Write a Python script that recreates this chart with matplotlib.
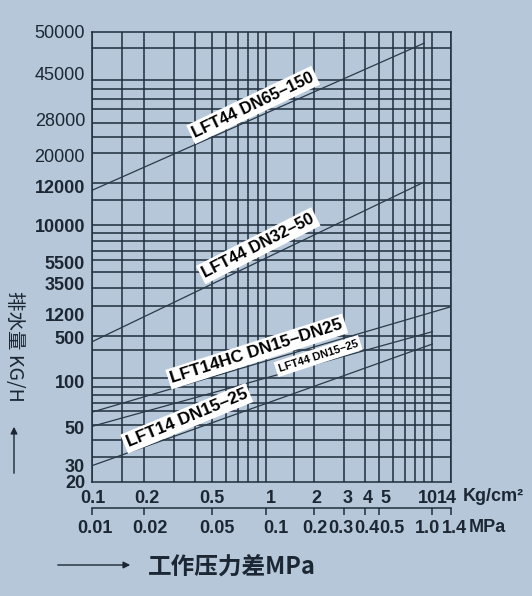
import numpy as np
import matplotlib
matplotlib.use("Agg")
import matplotlib.pyplot as plt
from matplotlib.ticker import FixedLocator, NullFormatter
from matplotlib.transforms import ScaledTranslation

plt.rcParams['font.family'] = ['Liberation Sans', 'Noto Sans CJK SC', 'DejaVu Sans']

# pressure axis (Kg/cm2 on top row, MPa on the second row)
kg_ticks = [0.1, 0.2, 0.5, 1, 2, 3, 4, 5, 10, 14]
kg_labels = ['0.1', '0.2', '0.5', '1', '2', '3', '4', '5', '10', '14']
kg_grid = [0.15, 0.3, 0.4, 0.6, 0.7, 0.8, 0.9, 1.5, 6, 7, 8, 9]
mpa_ticks = [0.01, 0.02, 0.05, 0.1, 0.2, 0.3, 0.4, 0.5, 1.0, 1.4]
mpa_labels = ['0.01', '0.02', '0.05', '0.1', '0.2', '0.3', '0.4', '0.5', '1.0', '1.4']

# flow axis (KG/H)
flow_ticks = [20, 30, 50, 100, 500, 1200, 3500, 5500, 10000, 12000, 20000, 28000, 45000, 50000]
flow_labels = [str(v) for v in flow_ticks]
flow_bold = [True] * 10 + [False] * 4

# capacity curves
curve_names = ['LFT44 DN65–150', 'LFT44 DN32–50', 'LFT14HC DN15–DN25',
               'LFT44 DN15–25', 'LFT14 DN15–25']
p_start = [0.1, 0.1, 0.1, 0.1, 0.1]
p_end = [9.0, 8.7, 14, 10, 10]
q_start = [11800, 430, 63, 51, 29.5]
q_end = [48600, 12700, 1560, 626, 395]

# the printed chart is not a clean log grid: anchor each tick to where it sits
x_anchor = [92, 144, 212, 265.7, 314.3, 344.3, 365.3, 379.3, 432.3, 451]
y_anchor = [0, 16.5, 53.8, 100.5, 143.8, 167.2, 198.2, 219.2, 255.5, 294.8,
            325.8, 362.2, 407.5, 449.8]
# unlabelled horizontal rules (same units as y_anchor)
y_rules = [433.5, 407.5, 401.5, 392.5, 382.5, 372.2, 358.8, 344.2, 328.2, 298.8,
           281.5, 256, 248.5, 240.5, 230.5, 221.2, 209.8, 193.2, 175.2, 146,
           131.5, 103.2, 94.8, 86.5, 78.8, 70.2, 56.5, 41.5, 24.5]
# label nudges (px) so the numbers sit where the print has them
kg_shift = [1, 2.5, 0, 5, 2.5, 3.4, 2.4, 5.7, -4.3, -4.3]
mpa_shift = [3, 6, 4.7, 10, 0.7, -3.3, 1.7, 13, -4.3, 3]


def piecewise_log(vals, pos):
    lv = np.log10(np.asarray(vals, dtype=float))
    pos = np.asarray(pos, dtype=float)
    s0 = (pos[1] - pos[0]) / (lv[1] - lv[0])
    s1 = (pos[-1] - pos[-2]) / (lv[-1] - lv[-2])

    def fwd(v):
        lg = np.log10(np.clip(np.asarray(v, dtype=float), 1e-12, None))
        out = np.interp(lg, lv, pos)
        out = np.where(lg < lv[0], pos[0] + (lg - lv[0]) * s0, out)
        out = np.where(lg > lv[-1], pos[-1] + (lg - lv[-1]) * s1, out)
        return out

    def inv(p):
        p = np.asarray(p, dtype=float)
        lg = np.interp(p, pos, lv)
        lg = np.where(p < pos[0], lv[0] + (p - pos[0]) / s0, lg)
        lg = np.where(p > pos[-1], lv[-1] + (p - pos[-1]) / s1, lg)
        return 10 ** lg

    return fwd, inv


bg = '#b5c7d9'
ink = '#1c2733'
grid_c = '#1f2e3c'

fig = plt.figure(figsize=(5.32, 5.96), dpi=100, facecolor=bg)
ax = fig.add_axes([92 / 532, 1 - 481.5 / 596, 359 / 532, 449.8 / 596])
ax.set_facecolor(bg)

xf, xi = piecewise_log(kg_ticks, x_anchor)
yf, yi = piecewise_log(flow_ticks, y_anchor)
ax.set_xscale('function', functions=(xf, xi))
ax.set_yscale('function', functions=(yf, yi))
ax.set_xlim(0.1, 14)
ax.set_ylim(20, 50000)

ax.xaxis.set_major_locator(FixedLocator(kg_ticks))
ax.set_xticklabels(kg_labels)
ax.xaxis.set_minor_locator(FixedLocator(kg_grid))
ax.xaxis.set_minor_formatter(NullFormatter())
ax.yaxis.set_major_locator(FixedLocator(flow_ticks))
ax.set_yticklabels(flow_labels)
ax.yaxis.set_minor_locator(FixedLocator(list(yi(y_rules))))
ax.yaxis.set_minor_formatter(NullFormatter())

ax.grid(which='both', axis='x', color=grid_c, lw=1.1)
ax.grid(which='minor', axis='y', color=grid_c, lw=1.1)
ax.tick_params(which='both', length=0)
ax.tick_params(axis='x', pad=6, labelsize=13, colors=ink)
ax.tick_params(axis='y', pad=5, labelsize=13, colors=ink)
for lbl, dx in zip(ax.get_xticklabels(), kg_shift):
    lbl.set_fontweight('bold')
    lbl.set_transform(lbl.get_transform() + ScaledTranslation(dx / 100, 0, fig.dpi_scale_trans))
for lbl, b in zip(ax.get_yticklabels(), flow_bold):
    lbl.set_fontweight('bold' if b else 'normal')
for sp in ax.spines.values():
    sp.set_color(grid_c)
    sp.set_linewidth(1.1)

for a, b, c, d in zip(p_start, p_end, q_start, q_end):
    ax.plot([a, b], [c, d], color='#2b3a48', lw=0.9)

# curve labels: (x frac, y frac, angle, size)
lab_pos = [(0.449, 0.837, 25.5, 12), (0.463, 0.524, 27, 12), (0.459, 0.289, 17.7, 12.5),
           (0.630, 0.279, 18, 8), (0.264, 0.1405, 22.5, 12.5)]
for name, (fx, fy, ang, fs) in zip(curve_names, lab_pos):
    ax.text(fx, fy, name, transform=ax.transAxes, rotation=ang, rotation_mode='anchor',
            ha='center', va='center', fontsize=fs, fontweight='bold', color='black',
            bbox=dict(facecolor='white', edgecolor='none', pad=2))

ax.text((463 - 92) / 359, -15.2 / 449.8, 'Kg/cm²', transform=ax.transAxes,
        ha='left', va='center', fontsize=13, fontweight='bold', color=ink)

# second pressure row in MPa
ax2 = ax.twiny()
ax2.set_xscale('function', functions=piecewise_log(mpa_ticks, x_anchor))
ax2.set_xlim(0.01, 1.4)
ax2.xaxis.set_ticks_position('bottom')
ax2.spines['bottom'].set_position(('axes', -26.8 / 449.8))
for k in ['top', 'left', 'right']:
    ax2.spines[k].set_visible(False)
ax2.spines['bottom'].set_color(grid_c)
ax2.spines['bottom'].set_linewidth(1.1)
ax2.xaxis.set_major_locator(FixedLocator(mpa_ticks))
ax2.set_xticklabels(mpa_labels)
ax2.xaxis.set_minor_locator(FixedLocator([]))
ax2.tick_params(axis='x', direction='out', length=5, width=1.1, color=grid_c,
                pad=3.5, labelsize=13, labelcolor=ink)
for lbl, dx in zip(ax2.get_xticklabels(), mpa_shift):
    lbl.set_fontweight('bold')
    lbl.set_transform(lbl.get_transform() + ScaledTranslation(dx / 100, 0, fig.dpi_scale_trans))
fig.text(469 / 532, 1 - 527.3 / 596, 'MPa', ha='left', va='center', fontsize=13,
         fontweight='bold', color=ink)

# axis titles with arrows
fig.text(14 / 532, 1 - 346 / 596, '排水量 KG/H', rotation=270, ha='center', va='center',
         fontsize=14, color=ink, family=['Noto Sans CJK SC', 'DejaVu Sans'])
fig.add_artist(matplotlib.patches.FancyArrowPatch(
    (14 / 532, 1 - 476 / 596), (14 / 532, 1 - 424 / 596), transform=fig.transFigure,
    arrowstyle='-|>', mutation_scale=10, color=ink, lw=1))
fig.add_artist(matplotlib.patches.FancyArrowPatch(
    (55 / 532, 1 - 565 / 596), (133 / 532, 1 - 565 / 596), transform=fig.transFigure,
    arrowstyle='-|>', mutation_scale=10, color=ink, lw=1))
fig.text(148 / 532, 1 - 566.5 / 596, '工作压力差MPa', ha='left', va='center',
         fontsize=17, fontweight='bold', color=ink,
         family=['Noto Sans CJK SC', 'DejaVu Sans'])

fig.savefig('out.png', dpi=100, facecolor=bg)
